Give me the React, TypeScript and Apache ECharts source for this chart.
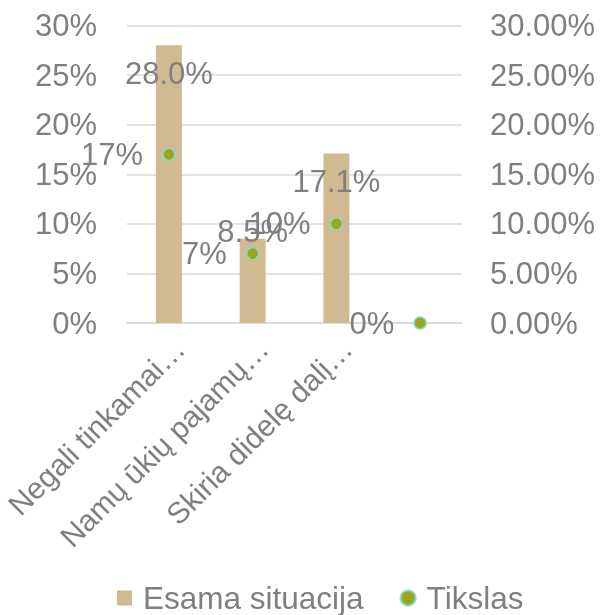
import React, { useEffect, useRef } from "react";
import * as echarts from "echarts";

const categories = ["Negali tinkamai…", "Namų ūkių pajamų…", "Skiria didelę dalį…", ""];
const currentValues: (number | null)[] = [28.0, 8.5, 17.1, null];
const targetValues = [17, 7, 10, 0];
const seriesNames = ["Esama situacija", "Tikslas"];

const FONT = "'Liberation Sans', Arial, sans-serif";
const GRAY = "#7f7f7f";
const FS = 31;

export default function App() {
  const ref = useRef<HTMLDivElement>(null);
  useEffect(() => {
    document.body.style.margin = "0";
    const chart = echarts.init(ref.current!, null, { renderer: "svg" });
    const barData = currentValues.map((v, i) => ({
      value: v,
      label:
        i === 1
          ? { position: "top", distance: -8 }
          : { position: "insideTop", distance: 13 },
    }));
    chart.setOption({
      animation: false,
      textStyle: { fontFamily: FONT },
      grid: {
        left: 127,
        right: 140,
        top: 25.5,
        bottom: 292,
        containLabel: false,
        outerBoundsMode: "none",
      },
      legend: {
        left: 112,
        top: 577,
        itemWidth: 15,
        itemHeight: 15,
        itemGap: 36,
        textStyle: { fontSize: 31.5, color: GRAY, fontFamily: FONT, padding: [0, 0, 0, 6] },
        data: [
          { name: seriesNames[0], icon: "rect" },
          { name: seriesNames[1], icon: "circle" },
        ],
      },
      xAxis: {
        type: "category",
        data: categories,
        axisLine: { lineStyle: { color: "#d9d9d9", width: 1.5 } },
        axisTick: { show: false },
        axisLabel: {
          rotate: 45,
          margin: 10,
          verticalAlign: "top",
          fontSize: 30,
          color: GRAY,
          fontFamily: FONT,
          interval: 0,
        },
      },
      yAxis: [
        {
          type: "value",
          min: 0,
          max: 30,
          interval: 5,
          axisLine: { show: false },
          axisTick: { show: false },
          splitLine: { lineStyle: { color: "#d9d9d9", width: 1.5 } },
          axisLabel: {
            margin: 30,
            fontSize: FS,
            color: GRAY,
            fontFamily: FONT,
            formatter: (v: number) => v + "%",
          },
        },
        {
          type: "value",
          min: 0,
          max: 30,
          interval: 5,
          axisLine: { show: false },
          axisTick: { show: false },
          splitLine: { show: false },
          axisLabel: {
            margin: 28,
            fontSize: FS,
            color: GRAY,
            fontFamily: FONT,
            formatter: (v: number) => v.toFixed(2) + "%",
          },
        },
      ],
      series: [
        {
          name: seriesNames[0],
          type: "bar",
          yAxisIndex: 0,
          barWidth: "31%",
          itemStyle: { color: "#d1b991" },
          label: {
            show: true,
            fontSize: FS,
            color: GRAY,
            fontFamily: FONT,
            formatter: (p: any) => (p.value == null ? "" : Number(p.value).toFixed(1) + "%"),
          },
          data: barData,
        },
        {
          name: seriesNames[1],
          type: "scatter",
          yAxisIndex: 1,
          symbol: "circle",
          symbolSize: 12,
          itemStyle: { color: "#9aa61c", borderColor: "#86dbc9", borderWidth: 1.5, opacity: 1 },
          label: {
            show: true,
            position: "left",
            distance: 19,
            fontSize: FS,
            color: GRAY,
            fontFamily: FONT,
            formatter: (p: any) => p.value + "%",
          },
          data: targetValues,
          z: 3,
        },
      ],
    });
    return () => chart.dispose();
  }, []);
  return (
    <div
      ref={ref}
      style={{ position: "fixed", left: 0, top: 0, width: 602, height: 615 }}
    />
  );
}
